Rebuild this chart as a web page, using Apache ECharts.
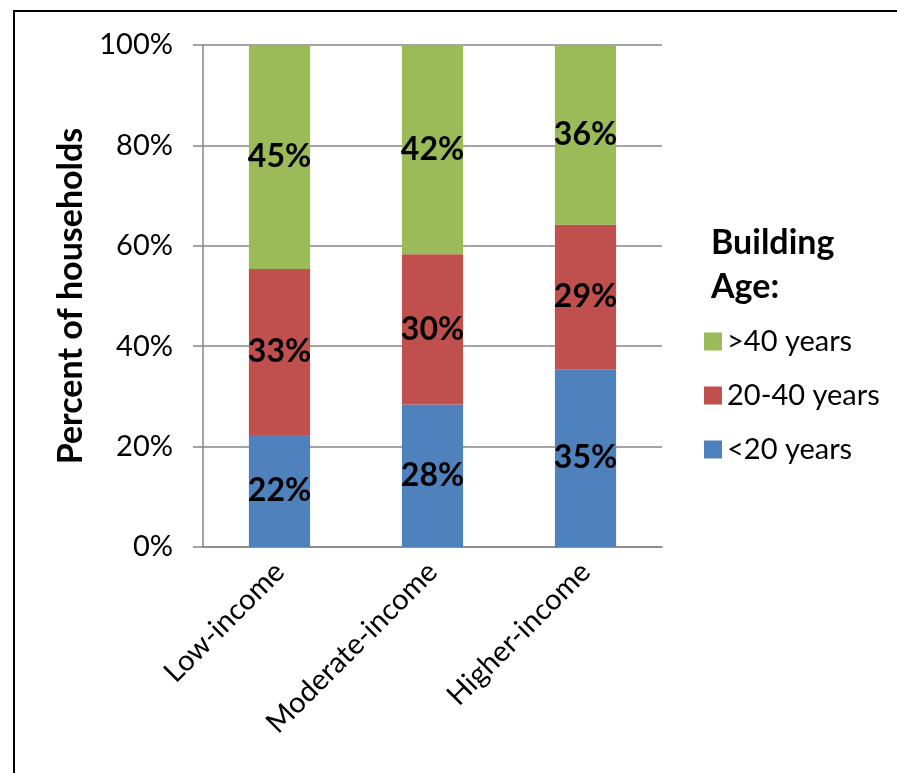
<!DOCTYPE html>
<html><head><meta charset="utf-8">
<script src="https://cdn.jsdelivr.net/npm/echarts@6/dist/echarts.min.js"></script>
<style>html,body{margin:0;padding:0;background:#fff}#c{width:897px;height:773px}</style>
</head><body><div id="c"></div>
<script>
const categories = ['Low-income', 'Moderate-income', 'Higher-income'];
const under20 = [22.3, 28.4, 35.4];
const from20to40 = [33.1, 29.9, 28.8];
const over40 = [44.6, 41.7, 35.8];
const seriesNames = ['<20 years', '20-40 years', '>40 years'];
const yTicks = [0, 20, 40, 60, 80, 100];

const FONT = 'Lato';
const chart = echarts.init(document.getElementById('c'));
const lbl = {
  show: true, position: 'inside', color: '#000', fontFamily: FONT, fontWeight: 'bold', fontSize: 32,
  formatter: p => Math.round(p.value) + '%'
};
function mk(name, data, color) {
  return { name, type: 'bar', stack: 'a', data, barWidth: '40%', itemStyle: { color }, label: lbl };
}
chart.setOption({
  animation: false,
  textStyle: { fontFamily: FONT },
  graphic: [{ type: 'rect', shape: { x: 14, y: 11, width: 900, height: 800 }, style: { fill: 'none', stroke: '#000', lineWidth: 2 } }],
  title: { text: 'Building\nAge:', left: 706, top: 216, textStyle: { fontFamily: FONT, fontWeight: 'bold', fontSize: 34, lineHeight: 44, color: '#000' } },
  legend: {
    data: [seriesNames[2], seriesNames[1], seriesNames[0]],
    orient: 'vertical', left: 699, top: 322, itemWidth: 18, itemHeight: 18, itemGap: 25,
    icon: 'rect',
    textStyle: { fontFamily: FONT, fontSize: 29, color: '#000' }
  },
  grid: { left: 203, right: 235, top: 45, bottom: 226, containLabel: false },
  xAxis: {
    type: 'category', data: categories,
    axisLine: { lineStyle: { color: '#868686', width: 1.5 } },
    axisTick: { length: 8, lineStyle: { color: '#868686', width: 1.5 } },
    axisLabel: { rotate: 45, color: '#000', fontSize: 29, fontFamily: FONT, margin: 20 }
  },
  yAxis: {
    type: 'value', min: yTicks[0], max: yTicks[yTicks.length - 1], interval: 20,
    name: 'Percent of households', nameLocation: 'middle', nameGap: 97,
    nameTextStyle: { fontFamily: FONT, fontWeight: 'bold', fontSize: 34, color: '#000' },
    axisLine: { show: true, lineStyle: { color: '#868686', width: 1.5 } },
    axisTick: { show: true, length: 10, lineStyle: { color: '#868686', width: 1.5 } },
    splitLine: { lineStyle: { color: '#868686', width: 1.5 } },
    axisLabel: { formatter: '{value}%', color: '#000', fontSize: 29, fontFamily: FONT, margin: 30 }
  },
  series: [
    mk(seriesNames[0], under20, '#4F81BD'),
    mk(seriesNames[1], from20to40, '#C0504D'),
    mk(seriesNames[2], over40, '#9BBB59')
  ]
});
</script></body></html>
